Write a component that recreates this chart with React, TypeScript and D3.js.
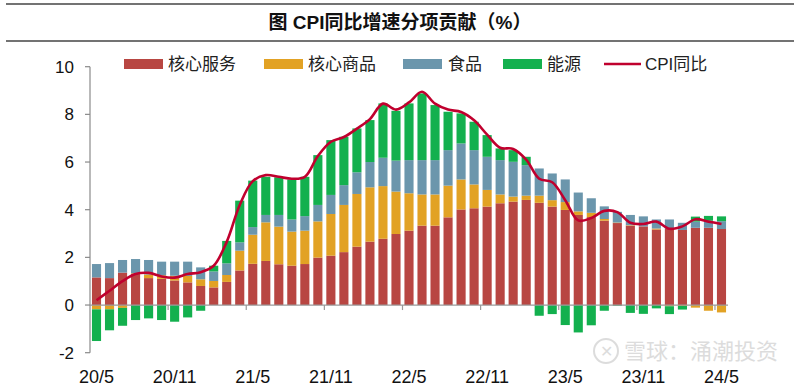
import React from 'react';
import * as d3 from 'd3';

const months = [
  "20/5","20/6","20/7","20/8","20/9","20/10","20/11","20/12",
  "21/1","21/2","21/3","21/4","21/5","21/6","21/7","21/8","21/9","21/10","21/11","21/12",
  "22/1","22/2","22/3","22/4","22/5","22/6","22/7","22/8","22/9","22/10","22/11","22/12",
  "23/1","23/2","23/3","23/4","23/5","23/6","23/7","23/8","23/9","23/10","23/11","23/12",
  "24/1","24/2","24/3","24/4","24/5"
];

const coreServices = [
  1.16,1.13,1.36,1.30,1.13,1.10,1.03,0.95,
  0.80,0.74,0.97,1.45,1.73,1.85,1.71,1.65,1.72,1.99,2.07,2.22,
  2.45,2.66,2.78,2.98,3.12,3.33,3.33,3.68,4.01,4.06,4.13,4.27,
  4.34,4.41,4.29,4.13,3.99,3.78,3.69,3.54,3.44,3.33,3.30,3.17,
  3.19,3.15,3.24,3.24,3.19
];
const coreGoods = [
  -0.18,-0.18,-0.12,0.03,0.15,0.15,0.20,0.27,
  0.28,0.27,0.29,0.83,1.22,1.62,1.58,1.43,1.40,1.52,1.75,1.98,
  2.21,2.28,2.21,1.78,1.57,1.31,1.31,1.33,1.26,1.00,0.70,0.37,
  0.21,0.18,0.30,0.27,0.33,0.15,0.18,0.07,0.02,0.02,0.00,0.04,
  -0.05,-0.04,-0.11,-0.24,-0.31
];
const food = [
  0.56,0.63,0.53,0.60,0.61,0.57,0.59,0.60,
  0.50,0.40,0.49,0.35,0.32,0.31,0.49,0.51,0.61,0.69,0.80,0.83,
  0.91,1.06,1.19,1.30,1.39,1.44,1.44,1.49,1.51,1.44,1.39,1.44,
  1.46,1.28,1.14,1.12,0.95,0.79,0.61,0.53,0.45,0.43,0.42,0.38,
  0.40,0.30,0.26,0.30,0.33
];
const energy = [
  -1.33,-0.88,-0.75,-0.63,-0.56,-0.63,-0.70,-0.52,
  -0.24,0.24,0.94,1.75,1.95,1.60,1.58,1.68,1.65,2.09,2.30,2.03,
  1.84,1.76,2.28,2.09,2.38,2.80,2.31,1.61,1.26,1.19,0.91,0.49,
  0.49,0.35,-0.45,-0.38,-0.84,-1.15,-0.85,-0.24,-0.03,-0.33,-0.37,-0.14,
  -0.33,-0.15,0.21,0.20,0.20
];
const cpiYoY = [
  0.2,0.6,1.0,1.3,1.35,1.2,1.15,1.3,
  1.38,1.65,2.65,4.2,5.2,5.45,5.38,5.3,5.38,6.25,6.85,7.05,
  7.4,7.8,8.45,8.2,8.5,8.95,8.45,8.2,8.1,7.75,7.15,6.6,
  6.55,6.1,5.3,5.15,4.4,3.55,3.65,3.95,3.9,3.45,3.4,3.5,
  3.2,3.3,3.6,3.5,3.4
];

const yTicks = [-2, 0, 2, 4, 6, 8, 10];
const xTickLabels = ["20/5","20/11","21/5","21/11","22/5","22/11","23/5","23/11","24/5"];
const seriesKeys = ["cs", "cg", "f", "e"];
const seriesNames = ["核心服务", "核心商品", "食品", "能源"];
const seriesColors = ["#B84642", "#E2A224", "#6B96AC", "#13B04E"];
const lineName = "CPI同比";
const lineColor = "#C0002E";
const titleText = "图 CPI同比增速分项贡献（%）";
const watermark = "雪球：涌潮投资";

export default function App() {
  const W = 800, H = 388;
  const left = 90, right = 728;
  const x = d3.scaleBand<string>().domain(months).range([left, right]).paddingInner(0.3).paddingOuter(0.15);
  const y = d3.scaleLinear().domain([-2, 10]).range([352.7, 66.7]);
  const bw = x.bandwidth();
  const step = x.step();

  const rows = months.map((m, i) => ({ m, cs: coreServices[i], cg: coreGoods[i], f: food[i], e: energy[i] }));
  const stacked = d3.stack<any>().keys(seriesKeys).offset(d3.stackOffsetDiverging)(rows);

  const line = d3.line<number>()
    .x((_, i) => (x(months[i]) as number) + bw / 2)
    .y((v) => y(v))
    .curve(d3.curveCatmullRom.alpha(0.5));

  const y0 = y(0);
  const legendItems = [
    { sx: 124, tx: 168 },
    { sx: 264, tx: 308 },
    { sx: 403, tx: 448 },
    { sx: 503, tx: 547 },
  ];
  const legY = 64;

  return (
    <svg width={W} height={H} style={{ position: 'absolute', left: 0, top: 0, background: '#fff' }}
      fontFamily="'Liberation Sans', Arial, 'Noto Sans CJK SC', sans-serif">
      <rect x={0} y={0} width={W} height={H} fill="#fff" />
      {/* title */}
      <line x1={6} x2={794} y1={4} y2={4} stroke="#444" strokeWidth={1.5} />
      <line x1={6} x2={794} y1={41} y2={41} stroke="#444" strokeWidth={1.5} />
      <text x={400} y={29} textAnchor="middle" fontSize={19} fontWeight="bold"
        fontFamily="'Liberation Sans', Arial, 'Noto Sans CJK SC', sans-serif" fill="#111">{titleText}</text>

      {/* legend */}
      {seriesNames.map((n, i) => (
        <g key={n}>
          <rect x={legendItems[i].sx} y={legY - 5} width={39} height={10} fill={seriesColors[i]} />
          <text x={legendItems[i].tx} y={legY + 6} fontSize={17} fill="#222"
            fontFamily="'Noto Sans CJK SC', sans-serif">{n}</text>
        </g>
      ))}
      <line x1={604} x2={641} y1={legY} y2={legY} stroke={lineColor} strokeWidth={2.5} />
      <text x={645} y={legY + 6} fontSize={17} fill="#222">{lineName}</text>

      {/* watermark (behind data) */}
      <g opacity={0.5}>
        <circle cx={606} cy={351} r={12} fill="none" stroke="#bbb" strokeWidth={2} />
        <text x={606} y={357} textAnchor="middle" fontSize={16} fill="#bbb">✕</text>
        <text x={624} y={359} fontSize={22} fill="#bbb" fontFamily="'Noto Sans CJK SC', sans-serif">{watermark}</text>
      </g>

      {/* bars */}
      {stacked.map((s, si) => (
        <g key={s.key} fill={seriesColors[si]}>
          {s.map((d, i) => {
            const top = y(Math.max(d[0], d[1]));
            const bot = y(Math.min(d[0], d[1]));
            return <rect key={i} x={x(months[i])} y={top} width={bw} height={Math.max(0, bot - top)} />;
          })}
        </g>
      ))}

      {/* y axis */}
      <line x1={left} x2={left} y1={y(10)} y2={y(-2)} stroke="#8a8a8a" strokeWidth={1.2} />
      {yTicks.map((t) => (
        <g key={t}>
          <line x1={left - 5} x2={left} y1={y(t)} y2={y(t)} stroke="#8a8a8a" strokeWidth={1.2} />
          <text x={left - 16} y={y(t) + 6} textAnchor="end" fontSize={17} fill="#111">{t}</text>
        </g>
      ))}

      {/* zero axis */}
      <line x1={left} x2={right} y1={y0} y2={y0} stroke="#9a9a9a" strokeWidth={1.2} />
      {xTickLabels.map((lab) => {
        const idx = months.indexOf(lab);
        const cx = (x(lab) as number) + bw / 2;
        const tx = (x(lab) as number) - (step - bw) / 2;
        return (
          <g key={lab}>
            {idx > 0 && <line x1={tx} x2={tx} y1={y0} y2={y0 + 5} stroke="#9a9a9a" strokeWidth={1.2} />}
            <text x={cx} y={383} textAnchor="middle" fontSize={18} fill="#111">{lab}</text>
          </g>
        );
      })}

      {/* CPI line */}
      <path d={line(cpiYoY) || ''} fill="none" stroke={lineColor} strokeWidth={2.6} strokeLinejoin="round" />
    </svg>
  );
}
